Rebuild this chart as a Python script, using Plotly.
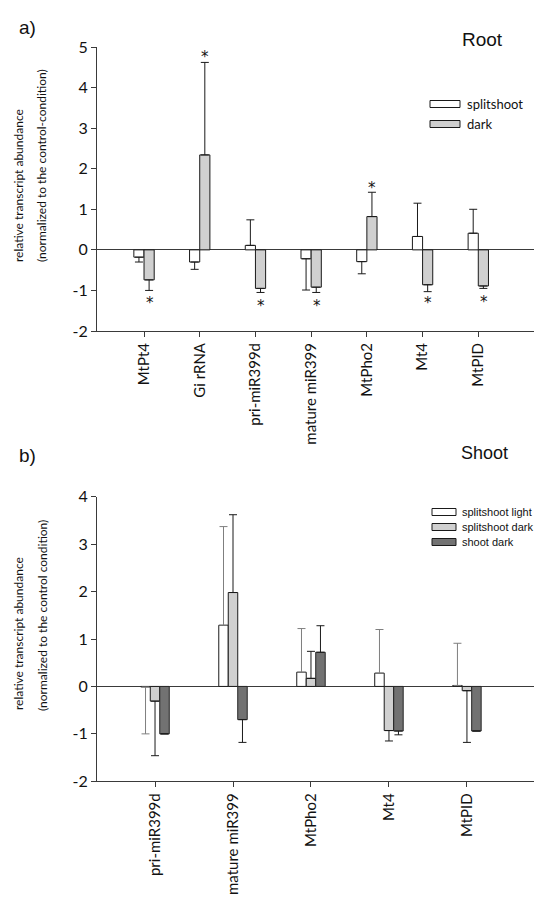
import plotly.graph_objects as go

# ---------------- data ----------------
cats_a = ["MtPt4", "Gi rRNA", "pri-miR399d", "mature miR399", "MtPho2", "Mt4", "MtPID"]
split_a = [-0.18, -0.30, 0.11, -0.22, -0.29, 0.33, 0.41]
split_a_err = [0.12, 0.18, 0.63, 0.77, 0.30, 0.82, 0.59]
dark_a = [-0.74, 2.34, -0.95, -0.92, 0.82, -0.86, -0.89]
dark_a_err = [0.26, 2.28, 0.10, 0.13, 0.60, 0.17, 0.06]
star_a = [-1.23, 4.82, -1.30, -1.31, 1.60, -1.23, -1.20]  # star positions (dark series)

cats_b = ["pri-miR399d", "mature miR399", "MtPho2", "Mt4", "MtPID"]
light_b = [-0.01, 1.29, 0.30, 0.28, 0.02]
light_b_err = [0.99, 2.08, 0.92, 0.92, 0.89]
sdark_b = [-0.31, 1.98, 0.17, -0.93, -0.09]
sdark_b_err = [1.15, 1.64, 0.57, 0.22, 1.09]
shdark_b = [-1.00, -0.70, 0.72, -0.94, -0.94]
shdark_b_err = [0.0, 0.48, 0.56, 0.08, 0.0]

ticks_a = [-2, -1, 0, 1, 2, 3, 4, 5]
ticks_b = [-2, -1, 0, 1, 2, 3, 4]

W, H = 534, 900
TICKFONT = "Lato, 'Open Sans', sans-serif"
ARIAL = "'Liberation Sans', Arial, sans-serif"


def py(p):
    return 1 - p / H


def px(p):
    return p / W


def one_sided(vals, errs):
    up = [e if v >= 0 else 0 for v, e in zip(vals, errs)]
    dn = [e if v < 0 else 0 for v, e in zip(vals, errs)]
    return up, dn


def err(vals, errs, color):
    up, dn = one_sided(vals, errs)
    return dict(type="data", symmetric=False, array=up, arrayminus=dn,
                color=color, thickness=1, width=4, visible=True)


fig = go.Figure()

# Panel a
fig.add_trace(go.Bar(x=cats_a, y=split_a, name="splitshoot", xaxis="x", yaxis="y",
                     offsetgroup="1",
                     marker=dict(color="white", line=dict(color="#1a1a1a", width=1)),
                     error_y=err(split_a, split_a_err, "#1a1a1a")))
fig.add_trace(go.Bar(x=cats_a, y=dark_a, name="dark", xaxis="x", yaxis="y",
                     offsetgroup="2",
                     marker=dict(color="#d0d0d0", line=dict(color="#1a1a1a", width=1)),
                     error_y=err(dark_a, dark_a_err, "#1a1a1a")))

# Panel b
fig.add_trace(go.Bar(x=cats_b, y=light_b, name="splitshoot light", xaxis="x2", yaxis="y2",
                     offsetgroup="1",
                     marker=dict(color="white", line=dict(color="#1a1a1a", width=1)),
                     error_y=err(light_b, light_b_err, "#7f7f7f")))
fig.add_trace(go.Bar(x=cats_b, y=sdark_b, name="splitshoot dark", xaxis="x2", yaxis="y2",
                     offsetgroup="2",
                     marker=dict(color="#d0d0d0", line=dict(color="#1a1a1a", width=1)),
                     error_y=err(sdark_b, sdark_b_err, "#1a1a1a")))
fig.add_trace(go.Bar(x=cats_b, y=shdark_b, name="shoot dark", xaxis="x2", yaxis="y2",
                     offsetgroup="3",
                     marker=dict(color="#727272", line=dict(color="#262626", width=1)),
                     error_y=err(shdark_b, shdark_b_err, "#1a1a1a")))

axis_common = dict(showgrid=False, showline=True, linecolor="#3a3a3a", linewidth=1,
                   ticks="outside", ticklen=5, tickcolor="#3a3a3a", automargin=False,
                   tickfont=dict(family=TICKFONT, size=15, color="#111"))
yfont = dict(family=TICKFONT, size=16, color="#111")

xa_dom = [px(97), 1.0]
fig.update_layout(
    template="none",
    width=W, height=H, margin=dict(l=0, r=0, t=0, b=0, pad=0),
    paper_bgcolor="white", plot_bgcolor="white", showlegend=False,
    barmode="group", bargap=0.635, bargroupgap=0,
    xaxis=dict(domain=xa_dom, anchor="y", type="category", categoryorder="array",
               categoryarray=cats_a, range=[-0.844, 7.0], tickangle=-90, **axis_common),
    yaxis=dict(domain=[py(331), py(47)], anchor="x", range=[-2, 5],
               tickvals=ticks_a, ticktext=[str(t) for t in ticks_a],
               zeroline=True, zerolinecolor="#3a3a3a", zerolinewidth=1, **axis_common),
    xaxis2=dict(domain=xa_dom, anchor="y2", type="category", categoryorder="array",
                categoryarray=cats_b, range=[-0.744, 4.86], tickangle=-90, **axis_common),
    yaxis2=dict(domain=[py(781.3), py(496.7)], anchor="x2", range=[-2, 4],
                tickvals=ticks_b, ticktext=[str(t) for t in ticks_b],
                zeroline=True, zerolinecolor="#3a3a3a", zerolinewidth=1, **axis_common),
)
fig.update_yaxes(tickfont=yfont)

ann = []
# significance stars over the dark bars of panel a
for i, s in enumerate(star_a):
    ann.append(dict(x=i + 0.1, y=s, xref="x", yref="y", text="*", showarrow=False,
                    font=dict(family="DejaVu Sans, sans-serif", size=15, color="#111"),
                    xanchor="center", yanchor="middle", yshift=-3))

# y-axis titles
for yc1, yc2, l2 in [(186, 166, "(normalized to the control-condition)"),
                     (634, 616, "(normalized to the control condition)")]:
    ann.append(dict(x=px(18), y=py(yc1), xref="paper", yref="paper",
                    text="relative transcript abundance", textangle=-90, showarrow=False,
                    font=dict(family=TICKFONT, size=12, color="#111"),
                    xanchor="center", yanchor="middle"))
    ann.append(dict(x=px(42), y=py(yc2), xref="paper", yref="paper",
                    text=l2, textangle=-90, showarrow=False,
                    font=dict(family=TICKFONT, size=12, color="#111"),
                    xanchor="center", yanchor="middle"))

# panel letters and titles
ann.append(dict(x=px(17), y=py(28), xref="paper", yref="paper", text="a)", showarrow=False,
                font=dict(family=ARIAL, size=19, color="#111"), xanchor="left", yanchor="middle"))
ann.append(dict(x=px(17), y=py(455), xref="paper", yref="paper", text="b)", showarrow=False,
                font=dict(family=ARIAL, size=19, color="#111"), xanchor="left", yanchor="middle"))
ann.append(dict(x=px(460), y=py(40), xref="paper", yref="paper", text="Root", showarrow=False,
                font=dict(family=ARIAL, size=19, color="#111"), xanchor="left", yanchor="middle"))
ann.append(dict(x=px(459), y=py(453), xref="paper", yref="paper", text="Shoot", showarrow=False,
                font=dict(family=ARIAL, size=18, color="#111"), xanchor="left", yanchor="middle"))

shapes = []
# legend a
for yy, col, name in [(104, "white", "splitshoot"), (124, "#d0d0d0", "dark")]:
    shapes.append(dict(type="rect", xref="paper", yref="paper", x0=px(430), x1=px(460),
                       y0=py(yy + 3.5), y1=py(yy - 3.5), fillcolor=col,
                       line=dict(color="#1a1a1a", width=1)))
    ann.append(dict(x=px(465), y=py(yy), xref="paper", yref="paper", text=name,
                    showarrow=False, font=dict(family=TICKFONT, size=13, color="#111"),
                    xanchor="left", yanchor="middle"))
# legend b
for yy, col, name in [(512, "white", "splitshoot light"), (527, "#d0d0d0", "splitshoot dark"),
                      (542, "#727272", "shoot dark")]:
    shapes.append(dict(type="rect", xref="paper", yref="paper", x0=px(432), x1=px(456),
                       y0=py(yy + 3.5), y1=py(yy - 3.5), fillcolor=col,
                       line=dict(color="#1a1a1a", width=1)))
    ann.append(dict(x=px(460), y=py(yy), xref="paper", yref="paper", text=name,
                    showarrow=False, font=dict(family=ARIAL, size=11, color="#111"),
                    xanchor="left", yanchor="middle"))

fig.update_layout(annotations=ann, shapes=shapes)
fig.write_html("out.html", config={"displayModeBar": False},
               post_script="document.body.style.margin='0';document.body.style.overflow='hidden';")
